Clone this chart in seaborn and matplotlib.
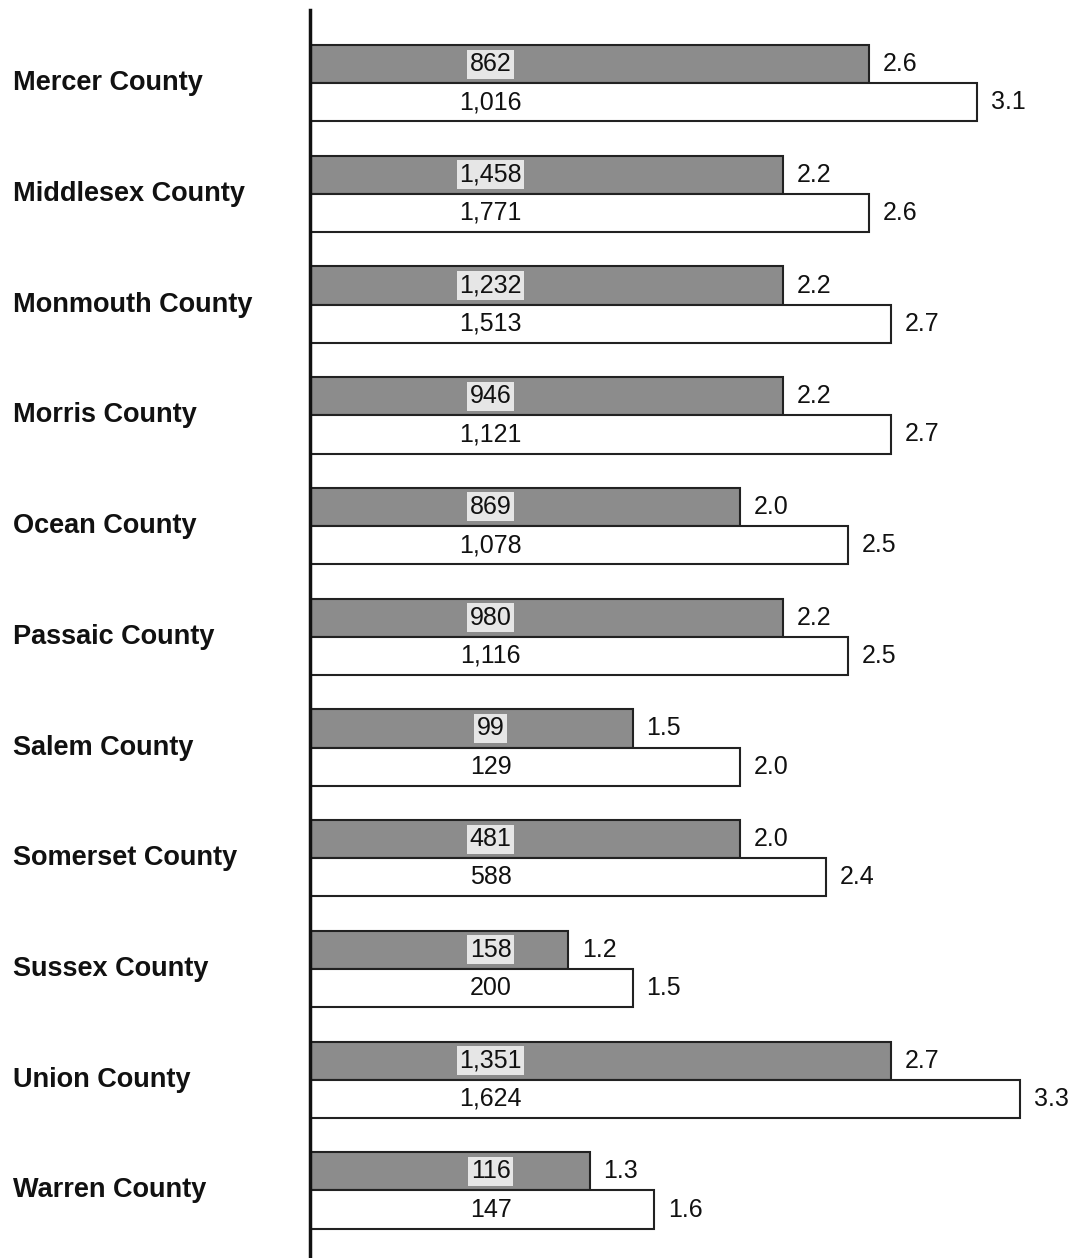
import pandas as pd
import matplotlib
matplotlib.use("Agg")
import matplotlib.pyplot as plt
import seaborn as sns

# data
counties = ["Mercer County", "Middlesex County", "Monmouth County", "Morris County",
            "Ocean County", "Passaic County", "Salem County", "Somerset County",
            "Sussex County", "Union County", "Warren County"]
count_a = [862, 1458, 1232, 946, 869, 980, 99, 481, 158, 1351, 116]
count_b = [1016, 1771, 1513, 1121, 1078, 1116, 129, 588, 200, 1624, 147]
rate_a = [2.6, 2.2, 2.2, 2.2, 2.0, 2.2, 1.5, 2.0, 1.2, 2.7, 1.3]
rate_b = [3.1, 2.6, 2.7, 2.7, 2.5, 2.5, 2.0, 2.4, 1.5, 3.3, 1.6]
series = ["A", "B"]

df = pd.concat([
    pd.DataFrame({"county": counties, "rate": rate_a, "count": count_a, "series": series[0]}),
    pd.DataFrame({"county": counties, "rate": rate_b, "count": count_b, "series": series[1]}),
])

sns.set_style("white")
plt.rcParams["font.family"] = ["Liberation Sans", "DejaVu Sans"]

fig = plt.figure(figsize=(10.82, 12.58), dpi=100)
ax = fig.add_axes([0.2865, 0.0, 0.7135, 0.992])

sns.barplot(data=df, y="county", x="rate", hue="series", orient="h",
            palette=["#8c8c8c", "#ffffff"], saturation=1, width=0.69, gap=0,
            edgecolor="#222222", linewidth=1.5, legend=False, ax=ax)

ax.set_xlim(0, 3.59)
ax.set_ylim(10.61, -0.66)

# rate labels at the bar ends
for cont in ax.containers:
    ax.bar_label(cont, fmt="%.1f", padding=10, fontsize=18, color="#111111")

# count labels at a fixed position inside the bars
counts = [count_a, count_b]
for i, cont in enumerate(ax.containers):
    for patch, c in zip(cont.patches, counts[i]):
        yc = patch.get_y() + patch.get_height() / 2
        kw = {}
        if i == 0:
            kw["bbox"] = dict(boxstyle="square,pad=0.1", fc="#e6e6e6", ec="none")
        ax.text(0.84, yc, f"{c:,}", ha="center", va="center", fontsize=18,
                color="#111111", **kw)

ax.set_xlabel("")
ax.set_ylabel("")
ax.set_xticks([])
ax.tick_params(axis="y", length=0, pad=214)
for lbl in ax.get_yticklabels():
    lbl.set_ha("left")
    lbl.set_va("center")
    lbl.set_fontweight("bold")
    lbl.set_fontsize(19.5)
    lbl.set_color("#111111")

for s in ["top", "right", "bottom"]:
    ax.spines[s].set_visible(False)
ax.spines["left"].set_linewidth(2.5)
ax.spines["left"].set_color("#111111")

fig.savefig("out.png", dpi=100)
